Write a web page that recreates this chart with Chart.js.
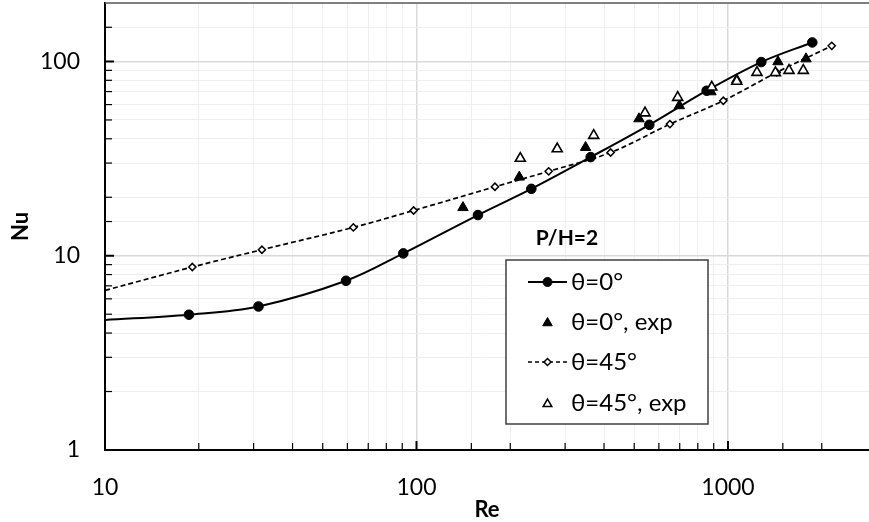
<!DOCTYPE html>
<html><head><meta charset="utf-8">
<script src="https://cdn.jsdelivr.net/npm/chart.js@4.4.1/dist/chart.umd.min.js"></script>
<style>html,body{margin:0;padding:0;background:#fff;overflow:hidden}#wrap{width:869px;height:522px;position:relative}</style>
</head><body><div id="wrap"><canvas id="c"></canvas></div>
<script>
// ---- data ----
const reSim0  = [10, 18.6, 31.1, 59.4, 90.7, 157.5, 233.7, 362.4, 559, 854, 1279, 1865];
const nuSim0  = [4.67, 4.97, 5.48, 7.43, 10.28, 16.2, 22.1, 32.2, 47.2, 70.7, 99.3, 125.3];
const reExp0  = [141, 213.8, 349, 518, 698, 882, 1067, 1447, 1780];
const nuExp0  = [17.7, 25.4, 36.1, 50.7, 59.2, 69.8, 80.5, 99.7, 103.2];
const reSim45 = [10, 19.07, 31.9, 62.7, 97.9, 178.6, 265.7, 420, 651, 966, 1433, 2153];
const nuSim45 = [6.63, 8.75, 10.74, 13.99, 17.1, 22.65, 27.2, 34.0, 47.6, 62.8, 87.8, 120.4];
const reExp45 = [215.4, 283, 370.6, 541.5, 689.5, 887, 1067, 1239, 1420, 1570, 1745];
const nuExp45 = [31.7, 35.5, 41.6, 54.3, 65.3, 73.8, 79, 87.8, 87.5, 89.9, 89.9];
const seriesLabels = ['θ=0°', 'θ=0°, exp', 'θ=45°', 'θ=45°, exp'];
const xTickLabels = [10, 100, 1000];
const yTickLabels = [1, 10, 100];
const legendTitle = 'P/H=2';
const xTitle = 'Re';
const yTitle = 'Nu';
const xRange = [10, 2836];
const yRange = [1, 200];

// ---- helpers ----
const FONT = 'Lato, "Noto Sans", sans-serif';
const isPow10 = v => Math.abs(Math.log10(v) - Math.round(Math.log10(v))) < 1e-9;
const pts = (xs, ys) => xs.map((x, i) => ({x, y: ys[i]}));
const hasLabel = (list, v) => list.some(t => Math.abs(t - v) < 1e-6 * t);

const overlay = {
  id: 'overlay',
  afterDraw(chart) {
    const {ctx, chartArea: a, scales: {x, y}} = chart;
    ctx.save();
    // top border
    ctx.strokeStyle = '#595959'; ctx.lineWidth = 1.5;
    ctx.beginPath(); ctx.moveTo(a.left, a.top); ctx.lineTo(a.right, a.top); ctx.stroke();
    // inside tick marks
    ctx.strokeStyle = '#000';
    y.ticks.forEach(t => {
      if (t.value <= y.min || t.value >= y.max) return;
      const py = y.getPixelForValue(t.value);
      const major = isPow10(t.value);
      ctx.lineWidth = major ? 2 : 1.2;
      ctx.beginPath(); ctx.moveTo(a.left, py); ctx.lineTo(a.left + (major ? 9 : 7), py); ctx.stroke();
    });
    x.ticks.forEach(t => {
      if (t.value <= x.min || t.value >= x.max) return;
      const px = x.getPixelForValue(t.value);
      const major = isPow10(t.value);
      ctx.lineWidth = major ? 2 : 1.2;
      ctx.beginPath(); ctx.moveTo(px, a.bottom); ctx.lineTo(px, a.bottom - (major ? 9 : 7)); ctx.stroke();
    });
    // legend title
    ctx.fillStyle = '#000';
    ctx.font = 'bold 21px ' + FONT;
    ctx.textAlign = 'center'; ctx.textBaseline = 'middle';
    ctx.fillText(legendTitle, 567, 238);
    // legend box
    const bx0 = 506, by0 = 260, bx1 = 708, by1 = 424;
    ctx.fillStyle = '#fff';
    ctx.fillRect(bx0, by0, bx1 - bx0, by1 - by0);
    ctx.strokeStyle = '#404040'; ctx.lineWidth = 1.5;
    ctx.strokeRect(bx0, by0, bx1 - bx0, by1 - by0);
    const rows = [282, 322, 362, 403];
    const sx0 = 528, sx1 = 567, mx = 547.5, tx = 571;
    const dp = Chart.helpers.drawPoint;
    ctx.strokeStyle = '#000'; ctx.lineWidth = 2; ctx.setLineDash([]);
    ctx.beginPath(); ctx.moveTo(sx0, rows[0]); ctx.lineTo(sx1, rows[0]); ctx.stroke();
    ctx.fillStyle = '#000'; ctx.lineWidth = 1;
    dp(ctx, {pointStyle: 'circle', radius: 4.5, borderWidth: 1, rotation: 0}, mx, rows[0]);
    ctx.fillStyle = '#000'; ctx.strokeStyle = '#000'; ctx.lineWidth = 1;
    dp(ctx, {pointStyle: 'triangle', radius: 5.5, borderWidth: 1, rotation: 0}, mx, rows[1] + 1);
    ctx.lineWidth = 1.6; ctx.setLineDash([4, 3]);
    ctx.beginPath(); ctx.moveTo(sx0, rows[2]); ctx.lineTo(sx1, rows[2]); ctx.stroke();
    ctx.setLineDash([]);
    ctx.fillStyle = '#fff'; ctx.lineWidth = 1.5;
    dp(ctx, {pointStyle: 'rectRot', radius: 3.5, borderWidth: 1.5, rotation: 0}, mx, rows[2]);
    ctx.fillStyle = '#fff'; ctx.lineWidth = 1.5;
    dp(ctx, {pointStyle: 'triangle', radius: 5, borderWidth: 1.5, rotation: 0}, mx, rows[3] + 1);
    ctx.fillStyle = '#000';
    ctx.font = '24px ' + FONT;
    ctx.textAlign = 'left'; ctx.textBaseline = 'middle';
    seriesLabels.forEach((s, i) => ctx.fillText(s, tx, rows[i]));
    ctx.restore();
  }
};

const gridColor = c => (c.tick && isPow10(c.tick.value)) ? '#d9d9d9' : '#efefef';
const gridWidth = c => (c.tick && isPow10(c.tick.value)) ? 1.5 : 1;
const zeroPad = s => { s.paddingTop = 0; s.paddingBottom = 0; s.paddingLeft = 0; s.paddingRight = 0; };

new Chart(document.getElementById('c'), {
  type: 'scatter',
  data: {
    datasets: [
      {label: seriesLabels[0], data: pts(reSim0, nuSim0), showLine: true, tension: 0.35,
       borderColor: '#000', backgroundColor: '#000', borderWidth: 2,
       pointStyle: 'circle', pointRadius: reSim0.map((r, i) => i === 0 ? 0 : 4.8),
       pointBackgroundColor: '#000', pointBorderColor: '#000', pointBorderWidth: 1, order: 4},
      {label: seriesLabels[1], data: pts(reExp0, nuExp0), showLine: false,
       pointStyle: 'triangle', pointRadius: 6,
       pointBackgroundColor: '#000', pointBorderColor: '#000', pointBorderWidth: 1, order: 3},
      {label: seriesLabels[2], data: pts(reSim45, nuSim45), showLine: true, tension: 0.35,
       borderColor: '#000', borderWidth: 1.7, borderDash: [5, 3],
       pointStyle: 'rectRot', pointRadius: reSim45.map((r, i) => i === 0 ? 0 : 3.6),
       pointBackgroundColor: '#fff', pointBorderColor: '#000', pointBorderWidth: 1.5, order: 2},
      {label: seriesLabels[3], data: pts(reExp45, nuExp45), showLine: false,
       pointStyle: 'triangle', pointRadius: 5.8,
       pointBackgroundColor: '#fff', pointBorderColor: '#000', pointBorderWidth: 1.6, order: 1}
    ]
  },
  options: {
    responsive: true, maintainAspectRatio: false, animation: false,
    layout: {autoPadding: false, padding: {top: 3, right: 0, bottom: 0, left: 0}},
    plugins: {legend: {display: false}, tooltip: {enabled: false}},
    scales: {
      x: {
        type: 'logarithmic', position: 'bottom', min: xRange[0], max: xRange[1],
        afterFit: s => { s.height = 72; zeroPad(s); },
        border: {display: true, color: '#000', width: 2},
        grid: {drawTicks: false, color: gridColor, lineWidth: gridWidth},
        ticks: {autoSkip: false, maxRotation: 0, minRotation: 0, padding: 24, color: '#000',
                font: {family: FONT, size: 23},
                callback: v => hasLabel(xTickLabels, v) ? String(Math.round(v)) : ''},
        title: {display: true, text: xTitle, color: '#000',
                font: {family: FONT, size: 22, weight: 'bold', lineHeight: 1.1}, padding: {top: 0, bottom: 0}}
      },
      y: {
        type: 'logarithmic', position: 'left', min: yRange[0], max: yRange[1],
        afterFit: s => { s.width = 105; zeroPad(s); },
        border: {display: true, color: '#000', width: 2},
        grid: {drawTicks: false, color: gridColor, lineWidth: gridWidth},
        ticks: {autoSkip: false, padding: 25, color: '#000',
                font: {family: FONT, size: 23},
                callback: v => hasLabel(yTickLabels, v) ? String(Math.round(v)) : ''},
        title: {display: true, text: yTitle, color: '#000',
                font: {family: FONT, size: 22, weight: 'bold'}, padding: {top: 8, bottom: 0}}
      }
    }
  },
  plugins: [overlay]
});
</script>
</body></html>
